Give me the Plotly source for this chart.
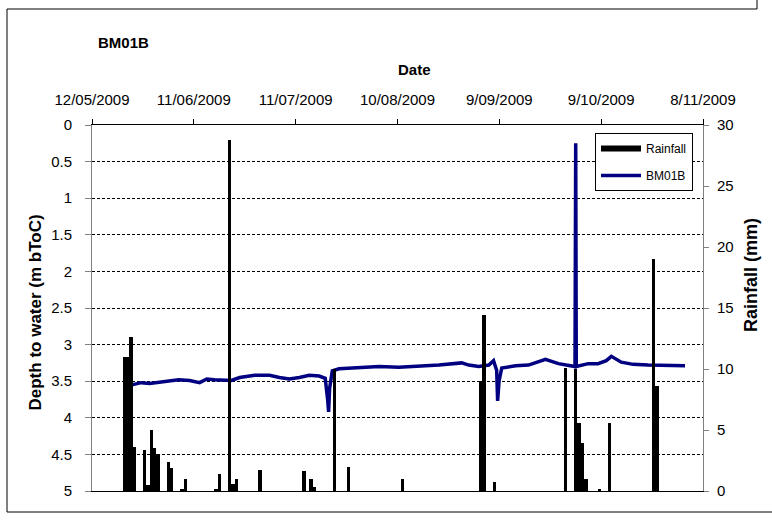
import plotly.graph_objects as go

# ---------------- data ----------------
rain_dates = ["2009-05-21", "2009-05-22", "2009-05-23", "2009-05-24",
              "2009-05-27", "2009-05-28", "2009-05-29", "2009-05-30", "2009-05-31",
              "2009-06-03", "2009-06-04", "2009-06-07", "2009-06-08",
              "2009-06-17", "2009-06-18", "2009-06-21", "2009-06-22", "2009-06-23",
              "2009-06-30", "2009-07-13", "2009-07-15", "2009-07-16", "2009-07-22",
              "2009-07-26", "2009-08-11", "2009-09-03", "2009-09-04", "2009-09-07",
              "2009-09-28", "2009-10-01", "2009-10-02", "2009-10-03", "2009-10-04",
              "2009-10-08", "2009-10-11", "2009-10-24", "2009-10-25"]
rain_mm = [11.0, 11.0, 12.6, 3.6,
           3.4, 0.5, 5.0, 3.5, 3.0,
           2.4, 1.9, 0.2, 1.0,
           0.1, 1.4, 28.8, 0.6, 1.0,
           1.7, 1.6, 1.0, 0.35, 10.0,
           2.0, 1.0, 9.0, 14.4, 0.7,
           10.1, 10.0, 5.6, 3.9, 1.0,
           0.1, 5.6, 19.0, 8.6]

bm_dates = ["2009-05-23 18:00", "2009-05-26 12:00", "2009-05-29 00:00", "2009-06-01 00:00",
            "2009-06-03 22:00", "2009-06-06 12:00", "2009-06-09 18:00",
            "2009-06-12 17:00", "2009-06-14 20:00", "2009-06-17 02:00", "2009-06-22 02:00",
            "2009-06-24 12:00", "2009-06-28 22:00", "2009-07-03 07:00", "2009-07-06 05:00",
            "2009-07-09 03:00", "2009-07-12 02:00", "2009-07-15 00:00", "2009-07-17 22:00",
            "2009-07-19 17:00", "2009-07-20 10:00", "2009-07-20 17:00", "2009-07-21 00:00",
            "2009-07-21 19:00", "2009-07-23 19:00", "2009-07-29 17:00", "2009-08-04 14:00",
            "2009-08-10 10:00", "2009-08-16 07:00", "2009-08-22 05:00", "2009-08-28 22:00",
            "2009-08-31 00:00", "2009-09-02 22:00", "2009-09-05 22:00", "2009-09-07 07:00",
            "2009-09-08 05:00", "2009-09-08 12:00", "2009-09-08 22:00", "2009-09-09 17:00",
            "2009-09-13 19:00", "2009-09-17 14:00", "2009-09-22 14:00", "2009-09-26 10:00",
            "2009-09-29 07:00", "2009-10-01 07:00", "2009-10-01 12:00", "2009-10-01 16:00",
            "2009-10-05 05:00", "2009-10-08 02:00", "2009-10-10 12:00", "2009-10-12 00:00",
            "2009-10-14 22:00", "2009-10-18 10:00", "2009-10-22 19:00", "2009-10-27 05:00",
            "2009-11-02 17:00"]
bm_depth = [3.55, 3.52, 3.53, 3.51,
            3.50, 3.48, 3.49,
            3.52, 3.47, 3.48, 3.49,
            3.45, 3.42, 3.42, 3.45,
            3.47, 3.45, 3.42, 3.43,
            3.46, 3.75, 3.92, 3.60,
            3.36, 3.33, 3.32, 3.30,
            3.31, 3.30, 3.28, 3.25,
            3.28, 3.30, 3.28, 3.22,
            3.35, 3.77, 3.50, 3.32,
            3.29, 3.28, 3.20, 3.26,
            3.28, 3.30, 0.25, 3.30,
            3.26, 3.26, 3.22, 3.16,
            3.24, 3.27, 3.28, 3.28,
            3.29]

x_range = ["2009-05-12", "2009-11-08"]
depth_ticks = [0, 0.5, 1, 1.5, 2, 2.5, 3, 3.5, 4, 4.5, 5]
rain_ticks = [0, 5, 10, 15, 20, 25, 30]

# ---------------- geometry helpers (pixels -> paper) ----------------
W, H = 772, 523
PL, PR, PT, PB = 92, 703, 125, 491
def px(x):
    return (x - PL) / (PR - PL)
def py(y):
    return (PB - y) / (PB - PT)

FONT = "Arial, Liberation Sans, sans-serif"
DAY_MS = 86400000

fig = go.Figure()

fig.add_trace(go.Scatter(
    x=bm_dates, y=bm_depth, mode="lines", name="BM01B",
    line=dict(color="#000080", width=3.5), yaxis="y",
    legendgroup="b", legendrank=2,
))

fig.add_trace(go.Bar(
    x=rain_dates, y=rain_mm, name="Rainfall", yaxis="y2",
    marker=dict(color="black", line=dict(width=0)),
    width=DAY_MS, xperiod=DAY_MS, xperiodalignment="middle",
    showlegend=False,
))

# legend-only entry so that Rainfall shows as a thick line like the original
fig.add_trace(go.Scatter(
    x=[None], y=[None], mode="lines", name="Rainfall",
    line=dict(color="black", width=6), yaxis="y2",
    legendgroup="a", legendrank=1,
))

frame = dict(color="black", width=1)
fig.update_layout(
    width=W, height=H,
    margin=dict(l=PL, r=W - PR, t=PT, b=H - PB, pad=0),
    paper_bgcolor="white", plot_bgcolor="white",
    font=dict(family=FONT, color="black", size=15),
    bargap=0,
    showlegend=True,
    legend=dict(
        x=px(595), y=py(133), xanchor="left", yanchor="top",
        bordercolor="black", borderwidth=1, bgcolor="white",
        font=dict(size=12, family=FONT), traceorder="grouped",
        tracegroupgap=8, itemwidth=40,
    ),
    xaxis=dict(
        type="date", range=x_range, side="top",
        tick0=x_range[0], dtick=30 * DAY_MS, tickformat="%-d/%m/%Y",
        ticks="outside", ticklen=5, tickcolor="black",
        showline=True, linecolor="black", linewidth=1, mirror=True,
        showgrid=False, zeroline=False,
        tickfont=dict(size=15), ticklabelstandoff=8,
    ),
    yaxis=dict(
        range=[5, 0], tickvals=depth_ticks,
        ticks="outside", ticklen=6, tickcolor="#808080",
        showline=True, linecolor="#808080", linewidth=1,
        showgrid=True, gridcolor="black", gridwidth=1, griddash="3px,2px",
        zeroline=False, tickfont=dict(size=15), ticklabelstandoff=10,
    ),
    yaxis2=dict(
        range=[0, 30], tickvals=rain_ticks, overlaying="y", side="right",
        anchor="x", ticks="outside", ticklen=5, tickcolor="#808080",
        showline=True, linecolor="#808080", linewidth=1,
        showgrid=False, zeroline=False, tickfont=dict(size=15),
        ticklabelstandoff=5,
    ),
    annotations=[
        dict(text="<b>BM01B</b>", x=px(123), y=py(43), xref="paper", yref="paper",
             xanchor="center", yanchor="middle", showarrow=False, font=dict(size=15)),
        dict(text="<b>Date</b>", x=px(414), y=py(70), xref="paper", yref="paper",
             xanchor="center", yanchor="middle", showarrow=False, font=dict(size=15)),
        dict(text="<b>Depth to water (m bToC)</b>", x=px(34.5), y=py(313),
             xref="paper", yref="paper", xanchor="center", yanchor="middle",
             showarrow=False, textangle=-90, font=dict(size=17)),
        dict(text="<b>Rainfall (mm)</b>", x=px(751), y=py(275),
             xref="paper", yref="paper", xanchor="center", yanchor="middle",
             showarrow=False, textangle=-90, font=dict(size=18)),
    ],
    shapes=[
        dict(type="line", xref="paper", yref="paper",
             x0=px(7), x1=px(7), y0=py(512), y1=py(9), line=frame),
        dict(type="line", xref="paper", yref="paper",
             x0=px(7), x1=px(757), y0=py(9), y1=py(9), line=frame),
        dict(type="line", xref="paper", yref="paper",
             x0=px(7), x1=px(790), y0=py(512), y1=py(512), line=frame),
        dict(type="line", xref="paper", yref="paper",
             x0=px(757), x1=px(757), y0=py(0), y1=py(9), line=frame),
    ],
)

fig.write_html("out.html", config={"displayModeBar": False},
               post_script="document.body.style.margin='0';")
